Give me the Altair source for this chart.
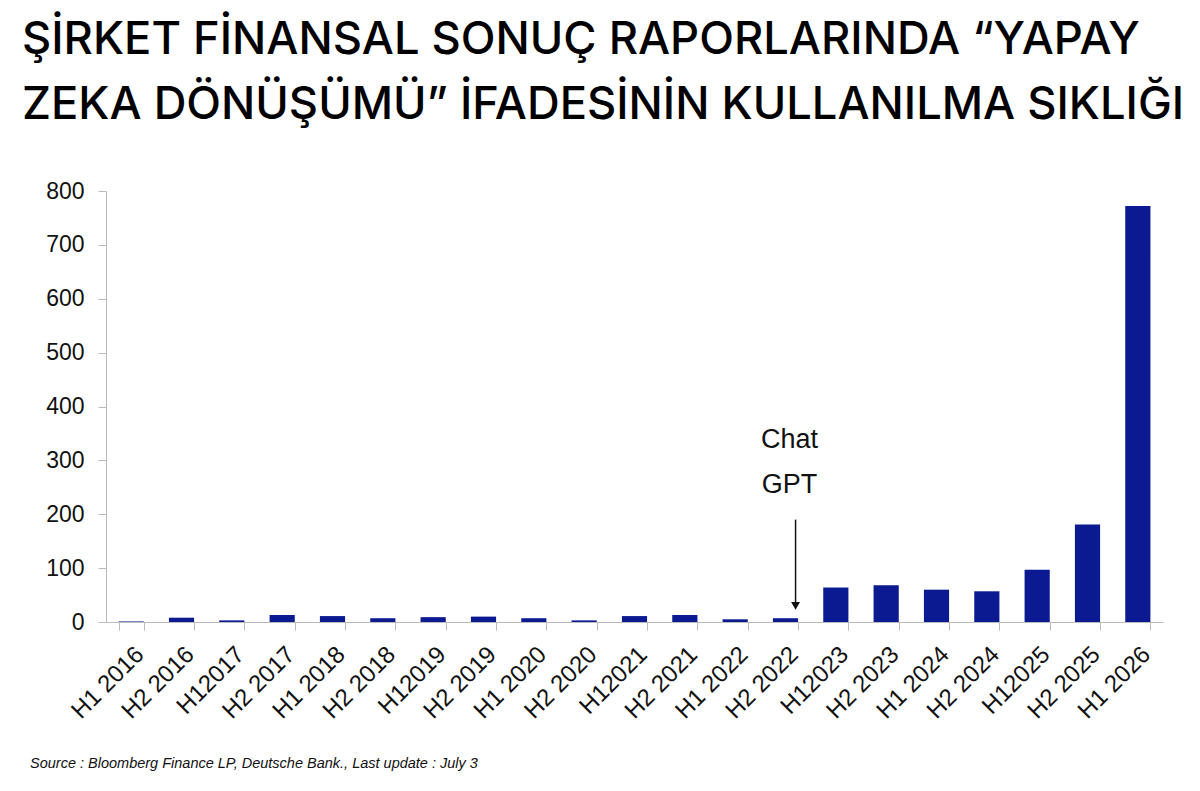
import altair as alt
import pandas as pd

categories = ["H1 2016", "H2 2016", "H12017", "H2 2017", "H1 2018", "H2 2018",
              "H12019", "H2 2019", "H1 2020", "H2 2020", "H12021", "H2 2021",
              "H1 2022", "H2 2022", "H12023", "H2 2023", "H1 2024", "H2 2024",
              "H12025", "H2 2025", "H1 2026"]
values = [1, 8, 3, 13, 11, 7, 9, 10, 7, 3, 11, 13, 5, 7, 64, 68, 60, 57, 97, 181, 772]

title_lines = ["ŞİRKET FİNANSAL SONUÇ RAPORLARINDA “YAPAY",
               "ZEKA DÖNÜŞÜMÜ” İFADESİNİN KULLANILMA SIKLIĞI"]
source_text = "Source : Bloomberg Finance LP, Deutsche Bank., Last update : July 3"
annot_cat = "H2 2022"
annot_lines = ["Chat", "GPT"]
annot_y = [338, 255]
arrow_top, arrow_bottom = 190, 30

df = pd.DataFrame({"cat": categories, "val": values})
ann = pd.DataFrame({"cat": [annot_cat] * 2, "y": annot_y, "t": annot_lines})
arrow = pd.DataFrame({"cat": [annot_cat], "y1": [arrow_top], "y2": [arrow_bottom]})

x_enc = alt.X("cat:N", sort=categories, title=None,
              scale=alt.Scale(paddingInner=0.5, paddingOuter=0.25),
              axis=alt.Axis(labelAngle=-45, labelFontSize=24, labelColor="#111",
                            labelFont="Liberation Sans", tickBand="extent",
                            tickSize=8, tickColor="#bbbbbb", domainColor="#bbbbbb",
                            labelPadding=12, labelAlign="right", labelBaseline="top"))
y_scale = alt.Scale(domain=[0, 800])

bars = alt.Chart(df).mark_bar(color="#0b1a90").encode(
    x=x_enc,
    y=alt.Y("val:Q", scale=y_scale, title=None,
            axis=alt.Axis(values=list(range(0, 801, 100)), grid=False,
                          labelFontSize=23, labelColor="#111", labelFont="Liberation Sans",
                          tickSize=8, tickColor="#bbbbbb", domainColor="#bbbbbb",
                          labelPadding=14))
)

texts = alt.Chart(ann).mark_text(fontSize=27, font="Liberation Sans", color="#111",
                                 baseline="middle", dx=4).encode(
    x=alt.X("cat:N", sort=categories), y=alt.Y("y:Q", scale=y_scale), text="t:N")

rule = alt.Chart(arrow).mark_rule(color="#111", strokeWidth=1.5).encode(
    x=alt.X("cat:N", sort=categories, bandPosition=0.9),
    y=alt.Y("y1:Q", scale=y_scale), y2="y2:Q")

head = alt.Chart(arrow).mark_point(shape="triangle-down", filled=True, color="#111",
                                   size=80, opacity=1).encode(
    x=alt.X("cat:N", sort=categories, bandPosition=0.9),
    y=alt.Y("y2:Q", scale=y_scale))

src = alt.Chart(pd.DataFrame({"t": [source_text]})).mark_text(
    fontSize=14.5, font="Liberation Sans", fontStyle="italic", color="#111",
    align="left", baseline="middle").encode(
    x=alt.value(-76), y=alt.value(573), text="t:N")

chart = alt.layer(bars, texts, rule, head, src).properties(
    width=1057, height=431,
    autosize=alt.AutoSizeParams(type="none"),
    padding={"left": 98, "top": 183, "right": 29, "bottom": 150},
    title=alt.Title(title_lines, anchor="start", fontSize=45.3, font="Inter",
                    fontWeight=500, color="#000", lineHeight=65, dx=-84, offset=52,
                    frame="group")
).configure_view(stroke=None)

chart.save("out.html", embed_options={"renderer": "svg", "actions": False})
